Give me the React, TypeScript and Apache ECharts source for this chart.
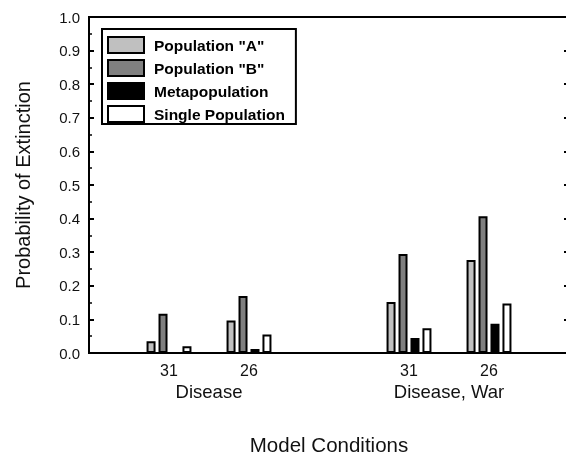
import React, { useEffect, useRef } from "react";
import * as echarts from "echarts";

// Sub-condition tick labels (four condition columns)
const conditionLabels = ["31", "26", "31", "26"];
// Group labels under the ticks
const groupLabels = ["Disease", "Disease, War"];
// Series names
const seriesNames = ['Population "A"', 'Population "B"', "Metapopulation", "Single Population"];
// Values per series, one per condition column
const popA = [0.035, 0.097, 0.152, 0.277];
const popB = [0.117, 0.17, 0.295, 0.407];
const meta = [0, 0.012, 0.045, 0.087];
const single = [0.02, 0.055, 0.074, 0.147];
// Y tick values
const yMin = 0;
const yMax = 1;
const yStep = 0.1;

const seriesValues = [popA, popB, meta, single];
const seriesColors = ["#c0c0c0", "#808080", "#000000", "#ffffff"];

// Build a category axis with empty slots at edges and between the two groups
function pad<T>(arr: T[], empty: T): T[] {
  return [empty, arr[0], arr[1], empty, arr[2], arr[3], empty];
}

export default function App() {
  const ref = useRef<HTMLDivElement>(null);
  useEffect(() => {
    if (!ref.current) return;
    const chart = echarts.init(ref.current, null, { renderer: "svg" });
    const font = "'Liberation Sans', Arial, sans-serif";
    chart.setOption({
      animation: false,
      textStyle: { fontFamily: font, color: "#000" },
      grid: {
        left: 89,
        top: 17,
        width: 480,
        height: 336,
        outerBoundsMode: "none",
        containLabel: false,
        show: true,
        borderColor: "#000",
        borderWidth: 2,
        backgroundColor: "transparent",
      },
      legend: {
        orient: "vertical",
        left: 102,
        top: 29,
        icon: "rect",
        itemWidth: 36,
        itemHeight: 16,
        itemGap: 5,
        padding: [7, 11, 1, 5],
        borderColor: "#000",
        borderWidth: 2,
        backgroundColor: "#fff",
        itemStyle: { borderColor: "#000", borderWidth: 2 },
        textStyle: {
          fontFamily: font,
          fontSize: 15.5,
          lineHeight: 16,
          fontWeight: "bold",
          color: "#000",
          padding: [0, 0, 0, 5],
        },
        data: seriesNames,
      },
      xAxis: [
        {
          type: "category",
          position: "bottom",
          boundaryGap: false,
          data: pad(conditionLabels, ""),
          axisLine: { show: true, onZero: false, lineStyle: { color: "#000", width: 2 } },
          axisTick: { show: false },
          axisLabel: { fontSize: 16, color: "#111", margin: 9, interval: 0 },
          splitLine: { show: false },
        },
        {
          type: "category",
          position: "bottom",
          boundaryGap: true,
          data: groupLabels,
          axisLine: { show: false },
          axisTick: { show: false },
          axisLabel: { fontSize: 18.5, color: "#111", margin: 29, interval: 0 },
          splitLine: { show: false },
          name: "Model Conditions",
          nameLocation: "middle",
          nameGap: 81,
          nameTextStyle: { fontSize: 20.5, color: "#111" },
        },
      ],
      yAxis: [
        {
          type: "value",
          position: "left",
          min: yMin,
          max: yMax,
          interval: yStep,
          axisLine: { show: true, lineStyle: { color: "#000", width: 2 } },
          axisTick: { show: true, inside: true, length: 5, lineStyle: { color: "#000", width: 2 } },
          minorTick: { show: true, splitNumber: 2, length: 3, lineStyle: { color: "#000", width: 1.5 } },
          axisLabel: {
            fontSize: 15,
            color: "#111",
            margin: 9,
            formatter: (v: number) => v.toFixed(1),
          },
          splitLine: { show: false },
          name: "Probability of Extinction",
          nameLocation: "middle",
          nameGap: 56,
          nameTextStyle: { fontSize: 20, color: "#111" },
        },
        {
          type: "value",
          position: "right",
          min: yMin,
          max: yMax,
          interval: yStep,
          axisLine: { show: true, lineStyle: { color: "#000", width: 2 } },
          axisTick: { show: true, inside: true, length: 5, lineStyle: { color: "#000", width: 2 } },
          axisLabel: { show: false },
          splitLine: { show: false },
        },
      ],
      series: seriesNames.map((name, i) => ({
        name,
        type: "bar",
        xAxisIndex: 0,
        yAxisIndex: 0,
        barWidth: 9,
        barGap: "33%",
        data: pad(seriesValues[i] as (number | string)[], "-"),
        itemStyle: { color: seriesColors[i], borderColor: "#000", borderWidth: 2 },
      })),
    });
    return () => chart.dispose();
  }, []);
  return (
    <div
      ref={ref}
      style={{ position: "fixed", left: 0, top: 0, width: 566, height: 455 }}
    />
  );
}
